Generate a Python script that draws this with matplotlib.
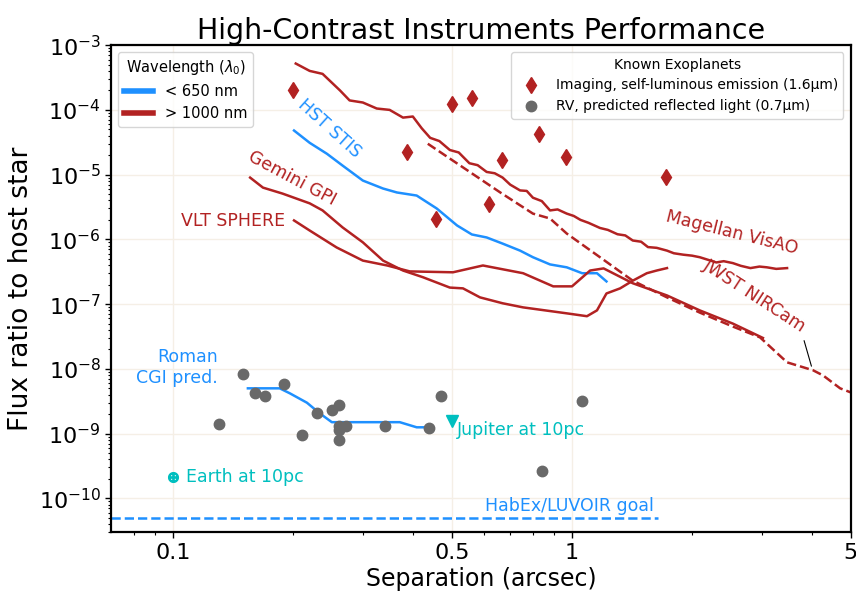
import matplotlib
matplotlib.use("Agg")
import matplotlib.pyplot as plt
from matplotlib.ticker import FixedLocator, FixedFormatter, NullFormatter
from matplotlib.lines import Line2D

BLUE = "#1e90ff"
RED = "#b22222"
GRAY = "#696969"
CYAN = "#00bfbf"

# Magellan VisAO (red, solid, wiggly)
visao_sep = [0.203, 0.220, 0.237, 0.262, 0.277, 0.299, 0.324, 0.349, 0.377, 0.399,
             0.420, 0.441, 0.465, 0.494, 0.52, 0.553, 0.58, 0.611, 0.64, 0.670,
             0.70, 0.741, 0.77, 0.798, 0.84, 0.881, 0.92, 0.970, 1.01, 1.05,
             1.10, 1.175, 1.23, 1.30, 1.36, 1.42, 1.49, 1.55, 1.63, 1.73,
             1.80, 1.90, 2.00, 2.09, 2.20, 2.30, 2.40, 2.53, 2.65, 2.80,
             2.95, 3.08, 3.25, 3.46]
visao_flux = [5.2e-4, 4.0e-4, 3.6e-4, 2.0e-4, 1.4e-4, 1.3e-4, 1.05e-4, 1.0e-4, 7.6e-5, 7.9e-5,
              5.2e-5, 3.7e-5, 3.3e-5, 2.4e-5, 2.2e-5, 1.5e-5, 1.4e-5, 1.1e-5, 1.05e-5, 9.0e-6,
              7.0e-6, 5.7e-6, 5.6e-6, 4.4e-6, 3.9e-6, 2.8e-6, 2.9e-6, 2.5e-6, 2.3e-6, 2.0e-6,
              1.8e-6, 1.5e-6, 1.4e-6, 1.2e-6, 1.15e-6, 9.6e-7, 9.2e-7, 7.6e-7, 7.4e-7, 6.7e-7,
              6.1e-7, 5.8e-7, 5.6e-7, 5.3e-7, 4.8e-7, 4.4e-7, 4.6e-7, 4.3e-7, 3.9e-7, 3.6e-7,
              3.8e-7, 3.7e-7, 3.5e-7, 3.6e-7]

# JWST NIRCam (red, dashed)
nircam_sep = [0.435, 0.661, 0.798, 0.881, 0.970, 1.175, 1.42, 1.73, 2.09, 2.53,
              2.96, 3.46, 4.02, 4.26, 4.70, 5.01]
nircam_flux = [3.0e-5, 5.3e-6, 2.5e-6, 2.1e-6, 1.23e-6, 5.3e-7, 2.3e-7, 1.27e-7, 7.4e-8, 4.5e-8,
               3.06e-8, 1.26e-8, 9.5e-9, 7.9e-9, 5.0e-9, 4.3e-9]

# HST STIS (blue)
stis_sep = [0.201, 0.220, 0.243, 0.266, 0.299, 0.336, 0.364, 0.408, 0.458, 0.515,
            0.561, 0.611, 0.670, 0.741, 0.798, 0.881, 0.970, 1.06, 1.155, 1.22]
stis_flux = [4.8e-5, 3.1e-5, 2.1e-5, 1.38e-5, 8.1e-6, 6.1e-6, 5.3e-6, 4.75e-6, 3.0e-6, 1.64e-6,
             1.19e-6, 1.07e-6, 8.6e-7, 6.7e-7, 5.3e-7, 4.1e-7, 3.7e-7, 3.0e-7, 3.0e-7, 2.24e-7]

# Gemini GPI (red)
gpi_sep = [0.156, 0.168, 0.188, 0.220, 0.237, 0.266, 0.299, 0.336, 0.377, 0.423,
           0.494, 0.533, 0.588, 0.670, 0.754, 0.970, 1.09, 1.155, 1.22, 1.32,
           1.42, 1.54, 1.63, 1.73]
gpi_flux = [9.0e-6, 6.3e-6, 5.1e-6, 3.6e-6, 2.8e-6, 1.53e-6, 9.0e-7, 4.7e-7, 3.3e-7, 2.6e-7,
            1.8e-7, 1.75e-7, 1.27e-7, 1.03e-7, 8.9e-8, 7.2e-8, 6.5e-8, 8.0e-8, 1.46e-7, 1.75e-7,
            2.3e-7, 3.0e-7, 3.3e-7, 3.6e-7]

# VLT SPHERE (red)
sphere_sep = [0.201, 0.220, 0.257, 0.299, 0.344, 0.392, 0.503, 0.598, 0.754, 0.897,
              1.0, 1.11, 1.20, 1.42, 1.73, 2.09, 2.53, 3.01]
sphere_flux = [1.96e-6, 1.37e-6, 7.5e-7, 4.7e-7, 3.95e-7, 3.2e-7, 3.1e-7, 3.95e-7, 3.0e-7, 1.88e-7,
               1.88e-7, 3.3e-7, 3.56e-7, 2.1e-7, 1.36e-7, 8.0e-8, 5.0e-8, 3.0e-8]

# Roman CGI prediction (blue)
roman_sep = [0.154, 0.185, 0.196, 0.2165, 0.233, 0.250, 0.266, 0.370, 0.408, 0.435]
roman_flux = [5.0e-9, 5.0e-9, 4.2e-9, 3.0e-9, 2.06e-9, 1.5e-9, 1.5e-9, 1.5e-9, 1.25e-9, 1.25e-9]

# HabEx/LUVOIR goal
goal_sep = [0.07, 1.64]
goal_flux = [5e-11, 5e-11]

# known exoplanets, imaging
img_sep = [0.200, 0.386, 0.456, 0.500, 0.561, 0.619, 0.667, 0.826, 0.966, 1.72]
img_flux = [2.06e-4, 2.27e-5, 2.03e-6, 1.25e-4, 1.55e-4, 3.58e-6, 1.71e-5, 4.3e-5, 1.84e-5, 9.35e-6]

# known exoplanets, RV
rv_sep = [0.130, 0.150, 0.160, 0.170, 0.190, 0.210, 0.229, 0.250, 0.260, 0.260,
          0.260, 0.271, 0.260, 0.340, 0.438, 0.469, 0.841, 1.06]
rv_flux = [1.39e-9, 8.2e-9, 4.2e-9, 3.8e-9, 5.8e-9, 9.4e-10, 2.1e-9, 2.3e-9, 2.8e-9, 1.30e-9,
           1.12e-9, 1.30e-9, 7.9e-10, 1.30e-9, 1.21e-9, 3.8e-9, 2.6e-10, 3.15e-9]

jupiter = (0.5, 1.55e-9)
earth = (0.1, 2.1e-10)

x_ticks = [0.1, 0.5, 1, 5]
x_tick_labels = ["0.1", "0.5", "1", "5"]
x_minor = [0.08, 0.09, 0.2, 0.3, 0.4, 0.6, 0.7, 0.8, 0.9, 2, 3, 4]

fig = plt.figure(figsize=(8.56, 6.02), dpi=100)
ax = fig.add_axes([0.130, 0.116, 0.864, 0.809])

ax.plot(visao_sep, visao_flux, color=RED, lw=1.8)
ax.plot(nircam_sep, nircam_flux, color=RED, lw=1.8, ls="--")
ax.plot(stis_sep, stis_flux, color=BLUE, lw=1.8)
ax.plot(gpi_sep, gpi_flux, color=RED, lw=1.8)
ax.plot(sphere_sep, sphere_flux, color=RED, lw=1.8)
ax.plot(roman_sep, roman_flux, color=BLUE, lw=1.8)
ax.plot(goal_sep, goal_flux, color=BLUE, lw=1.8, ls="--")

ax.plot(img_sep, img_flux, ls="none", marker="d", color=RED, ms=8.5, mec=RED)
ax.plot(rv_sep, rv_flux, ls="none", marker="o", color=GRAY, ms=7.5, mec=GRAY)
ax.plot(*jupiter, ls="none", marker="v", color=CYAN, ms=8)
ax.plot(*earth, ls="none", marker=r"$\oplus$", color=CYAN, ms=7)

# curve labels
ax.text(0.247, 5.1e-5, "HST STIS", color=BLUE, fontsize=12.5, rotation=-42,
        ha="center", va="center")
ax.text(0.1985, 8.7e-6, "Gemini GPI", color=RED, fontsize=12.5, rotation=-28,
        ha="center", va="center")
ax.text(0.141, 1.89e-6, "VLT SPHERE", color=RED, fontsize=12.5, ha="center", va="center")
ax.text(2.52, 1.28e-6, "Magellan VisAO", color=RED, fontsize=12.5, rotation=-14,
        ha="center", va="center")
ax.text(2.86, 1.36e-7, "JWST NIRCam", color=RED, fontsize=12.5, rotation=-33,
        ha="center", va="center")
ax.annotate("", xy=(4.0, 1.0e-8), xytext=(3.8, 3.0e-8),
            arrowprops=dict(arrowstyle="-", color="k", lw=0.8))
ax.text(0.1295, 1.05e-8, "Roman\nCGI pred.", color=BLUE, fontsize=12.5, ha="right",
        va="center", multialignment="right")
ax.text(1.60, 7.6e-11, "HabEx/LUVOIR goal", color=BLUE, fontsize=12.5, ha="right", va="center")
ax.text(0.515, 1.12e-9, "Jupiter at 10pc", color=CYAN, fontsize=12.5, ha="left", va="center")
ax.text(0.1076, 2.1e-10, "Earth at 10pc", color=CYAN, fontsize=12.5, ha="left", va="center")

ax.set_xscale("log")
ax.set_yscale("log")
ax.set_xlim(0.07, 5)
ax.set_ylim(3e-11, 1e-3)
ax.xaxis.set_major_locator(FixedLocator(x_ticks))
ax.xaxis.set_major_formatter(FixedFormatter(x_tick_labels))
ax.xaxis.set_minor_locator(FixedLocator(x_minor))
ax.xaxis.set_minor_formatter(NullFormatter())
ax.tick_params(which="major", labelsize=16, length=4, width=1, direction="out")
ax.tick_params(which="minor", length=2.5, width=0.8, direction="out")
ax.grid(True, which="major", color="#f5efe6", lw=1)
for s in ax.spines.values():
    s.set_linewidth(1.6)

ax.set_xlabel("Separation (arcsec)", fontsize=17, labelpad=3)
ax.set_ylabel("Flux ratio to host star", fontsize=19, labelpad=3)
ax.set_title("High-Contrast Instruments Performance", fontsize=20.5, pad=4)

wl_handles = [Line2D([], [], color=BLUE, lw=4), Line2D([], [], color=RED, lw=4)]
leg1 = ax.legend(wl_handles, ["< 650 nm", "> 1000 nm"], title=r"Wavelength ($\lambda_0$)",
                 loc="upper left", bbox_to_anchor=(0.0095, 0.986), borderaxespad=0,
                 fontsize=10.5, title_fontsize=10.5, handlelength=2)
ax.add_artist(leg1)

pl_handles = [Line2D([], [], ls="none", marker="d", color=RED, ms=8.5),
              Line2D([], [], ls="none", marker="o", color=GRAY, ms=7.5)]
ax.legend(pl_handles, ["Imaging, self-luminous emission (1.6μm)",
                       "RV, predicted reflected light (0.7μm)"],
          title="Known Exoplanets", loc="upper right", bbox_to_anchor=(0.99, 0.986),
          borderaxespad=0, fontsize=10, title_fontsize=10)

fig.savefig("out.png", dpi=100)
